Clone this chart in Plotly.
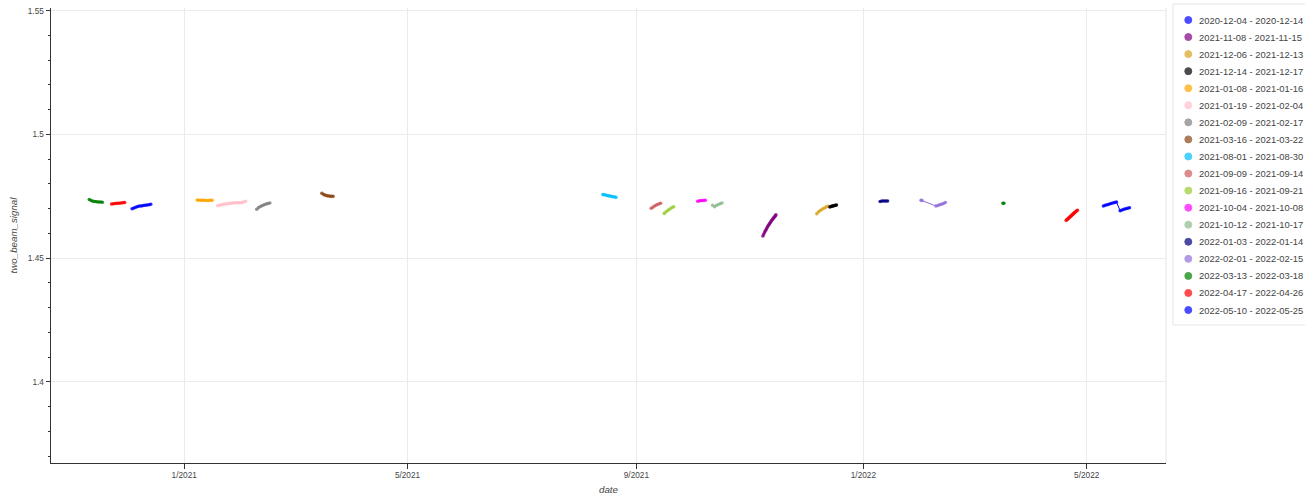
import plotly.graph_objects as go

# ---------------- data ----------------
# unlabelled early series (no legend entry in the reference)
a_dates = ["2020-11-11", "2020-11-12", "2020-11-13", "2020-11-14", "2020-11-15", "2020-11-16", "2020-11-17", "2020-11-18"]
a_vals = [1.4737, 1.4733, 1.4730, 1.4729, 1.4728, 1.4727, 1.4727, 1.4726]
b_dates = ["2020-11-23", "2020-11-24", "2020-11-25", "2020-11-26", "2020-11-27", "2020-11-28", "2020-11-29", "2020-11-30"]
b_vals = [1.4719, 1.4720, 1.4721, 1.4722, 1.4722, 1.4723, 1.4724, 1.4725]

s01_dates = ["2020-12-04", "2020-12-05", "2020-12-06", "2020-12-07", "2020-12-08", "2020-12-09", "2020-12-10", "2020-12-11", "2020-12-12", "2020-12-13", "2020-12-14"]
s01_vals = [1.4700, 1.4703, 1.4706, 1.4709, 1.4711, 1.4711, 1.4713, 1.4714, 1.4715, 1.4716, 1.4718]

s02_dates = ["2021-11-08 00:00", "2021-11-08 12:00", "2021-11-09 00:00", "2021-11-09 12:00", "2021-11-10 00:00", "2021-11-10 12:00",
             "2021-11-11 00:00", "2021-11-11 12:00", "2021-11-12 00:00", "2021-11-12 12:00", "2021-11-13 00:00", "2021-11-13 12:00",
             "2021-11-14 00:00", "2021-11-14 12:00", "2021-11-15 00:00"]
s02_vals = [1.4590, 1.4598, 1.4606, 1.4613, 1.4620, 1.4627, 1.4633, 1.4639, 1.4644, 1.4650, 1.4655, 1.4660, 1.4665, 1.4670, 1.4675]

s03_dates = ["2021-12-07", "2021-12-08", "2021-12-09", "2021-12-10", "2021-12-11", "2021-12-12", "2021-12-13"]
s03_vals = [1.4680, 1.4688, 1.4694, 1.4699, 1.4703, 1.4707, 1.4710]

s04_dates = ["2021-12-14 00:00", "2021-12-14 12:00", "2021-12-15 00:00", "2021-12-15 12:00", "2021-12-16 00:00", "2021-12-16 12:00", "2021-12-17 00:00", "2021-12-17 12:00"]
s04_vals = [1.4707, 1.4709, 1.4710, 1.4711, 1.4712, 1.4713, 1.4714, 1.4715]

s05_dates = ["2021-01-08", "2021-01-09", "2021-01-10", "2021-01-11", "2021-01-12", "2021-01-13", "2021-01-14", "2021-01-15", "2021-01-16"]
s05_vals = [1.4735, 1.4734, 1.4734, 1.4734, 1.4734, 1.4733, 1.4733, 1.4734, 1.4734]

s06_dates = ["2021-01-19", "2021-01-20", "2021-01-21", "2021-01-22", "2021-01-23", "2021-01-24", "2021-01-25", "2021-01-26",
             "2021-01-27", "2021-01-28", "2021-01-29", "2021-01-30", "2021-01-31", "2021-02-01", "2021-02-02", "2021-02-03"]
s06_vals = [1.4712, 1.4714, 1.4716, 1.4718, 1.4719, 1.4720, 1.4721, 1.4722, 1.4723, 1.4724, 1.4724, 1.4724, 1.4724, 1.4725, 1.4727, 1.4730]

s07_dates = ["2021-02-09", "2021-02-10", "2021-02-11", "2021-02-12", "2021-02-13", "2021-02-14", "2021-02-15", "2021-02-16"]
s07_vals = [1.4698, 1.4705, 1.4709, 1.4713, 1.4716, 1.4719, 1.4721, 1.4723]

s08_dates = ["2021-03-16", "2021-03-17", "2021-03-18", "2021-03-19", "2021-03-20", "2021-03-21", "2021-03-22"]
s08_vals = [1.4762, 1.4757, 1.4754, 1.4752, 1.4751, 1.4750, 1.4750]

s09_dates = ["2021-08-14", "2021-08-15", "2021-08-16", "2021-08-17", "2021-08-18", "2021-08-19", "2021-08-20", "2021-08-21"]
s09_vals = [1.4757, 1.4756, 1.4754, 1.4752, 1.4751, 1.4749, 1.4748, 1.4746]

s10_dates = ["2021-09-09", "2021-09-10", "2021-09-11", "2021-09-12", "2021-09-13", "2021-09-14"]
s10_vals = [1.4702, 1.4707, 1.4712, 1.4716, 1.4719, 1.4722]

s11_dates = ["2021-09-16", "2021-09-17", "2021-09-18", "2021-09-19", "2021-09-20", "2021-09-21"]
s11_vals = [1.4681, 1.4688, 1.4694, 1.4699, 1.4704, 1.4708]

s12_dates = ["2021-10-04", "2021-10-05", "2021-10-06", "2021-10-07", "2021-10-08"]
s12_vals = [1.4730, 1.4732, 1.4733, 1.4733, 1.4734]

s13_dates = ["2021-10-12", "2021-10-13", "2021-10-14", "2021-10-15", "2021-10-16", "2021-10-17"]
s13_vals = [1.4714, 1.4708, 1.4713, 1.4717, 1.4720, 1.4723]

s14_dates = ["2022-01-10", "2022-01-11", "2022-01-12", "2022-01-13", "2022-01-14"]
s14_vals = [1.4729, 1.4731, 1.4731, 1.4731, 1.4731]

s15_dates = ["2022-02-01 00:00", "2022-02-01 12:00", "2022-02-09 00:00", "2022-02-10 00:00", "2022-02-11 00:00", "2022-02-12 00:00", "2022-02-13 00:00", "2022-02-14 00:00"]
s15_vals = [1.4734, 1.4733, 1.4711, 1.4713, 1.4716, 1.4718, 1.4721, 1.4725]

s16_dates = ["2022-03-17 00:00", "2022-03-17 12:00"]
s16_vals = [1.4722, 1.4722]

s17_dates = ["2022-04-20 00:00", "2022-04-20 12:00", "2022-04-21 00:00", "2022-04-21 12:00", "2022-04-22 00:00", "2022-04-22 12:00",
             "2022-04-23 00:00", "2022-04-23 12:00", "2022-04-24 00:00", "2022-04-24 12:00", "2022-04-25 00:00", "2022-04-25 12:00", "2022-04-26 00:00"]
s17_vals = [1.4653, 1.4656, 1.4660, 1.4663, 1.4667, 1.4670, 1.4674, 1.4677, 1.4681, 1.4684, 1.4688, 1.4691, 1.4694]

s18_dates = ["2022-05-10", "2022-05-11", "2022-05-12", "2022-05-13", "2022-05-14", "2022-05-15", "2022-05-16", "2022-05-17",
             "2022-05-19", "2022-05-20", "2022-05-21", "2022-05-22", "2022-05-23", "2022-05-24"]
s18_vals = [1.4711, 1.4714, 1.4716, 1.4718, 1.4721, 1.4723, 1.4725, 1.4727,
            1.4692, 1.4695, 1.4698, 1.4700, 1.4702, 1.4704]

legend_labels = ["2020-12-04 - 2020-12-14", "2021-11-08 - 2021-11-15", "2021-12-06 - 2021-12-13", "2021-12-14 - 2021-12-17",
                 "2021-01-08 - 2021-01-16", "2021-01-19 - 2021-02-04", "2021-02-09 - 2021-02-17", "2021-03-16 - 2021-03-22",
                 "2021-08-01 - 2021-08-30", "2021-09-09 - 2021-09-14", "2021-09-16 - 2021-09-21", "2021-10-04 - 2021-10-08",
                 "2021-10-12 - 2021-10-17", "2022-01-03 - 2022-01-14", "2022-02-01 - 2022-02-15", "2022-03-13 - 2022-03-18",
                 "2022-04-17 - 2022-04-26", "2022-05-10 - 2022-05-25"]
legend_colors = ["blue", "purple", "goldenrod", "black", "orange", "pink", "gray", "saddlebrown", "deepskyblue", "indianred",
                 "yellowgreen", "magenta", "darkseagreen", "navy", "mediumpurple", "green", "red", "blue"]

x_tick_vals = ["2021-01-01", "2021-05-01", "2021-09-01", "2022-01-01", "2022-05-01"]
x_tick_text = ["1/2021", "5/2021", "9/2021", "1/2022", "5/2022"]
x_range = ["2020-10-21 10:00", "2022-06-12 15:00"]
y_range = [1.36727, 1.55109]

labelled = [(s01_dates, s01_vals), (s02_dates, s02_vals), (s03_dates, s03_vals), (s04_dates, s04_vals),
            (s05_dates, s05_vals), (s06_dates, s06_vals), (s07_dates, s07_vals), (s08_dates, s08_vals),
            (s09_dates, s09_vals), (s10_dates, s10_vals), (s11_dates, s11_vals), (s12_dates, s12_vals),
            (s13_dates, s13_vals), (s14_dates, s14_vals), (s15_dates, s15_vals), (s16_dates, s16_vals),
            (s17_dates, s17_vals), (s18_dates, s18_vals)]

# ---------------- figure ----------------
W, H = 1305, 496
ML, MR, MT, MB = 51, 139, 8, 33
PW, PH = W - ML - MR, H - MT - MB
FONT = "Liberation Sans, Arial, Helvetica, sans-serif"


def pxx(px):
    return (px - ML) / PW


def pxy(py):
    return (H - MB - py) / PH


fig = go.Figure()


def add_series(dates, vals, color):
    fig.add_trace(go.Scatter(
        x=dates, y=vals, mode="lines+markers", showlegend=False,
        line=dict(color=color, width=1),
        marker=dict(color=color, size=3.6, opacity=0.85, line=dict(width=0)),
    ))


add_series(a_dates, a_vals, "green")
add_series(b_dates, b_vals, "red")
for (d, v), c in zip(labelled, legend_colors):
    add_series(d, v, c)

shapes = []
annotations = []
# plot outline on the right side
shapes.append(dict(type="line", xref="paper", yref="paper", x0=1, x1=1, y0=0, y1=1,
                   line=dict(color="#e5e5e5", width=1), layer="below"))
# legend box
shapes.append(dict(type="rect", xref="paper", yref="paper", x0=pxx(1173), x1=pxx(1320), y0=pxy(325), y1=pxy(4),
                   line=dict(color="#e5e5e5", width=1), fillcolor="white", layer="above"))
for i, (lab, col) in enumerate(zip(legend_labels, legend_colors)):
    yc = 20 + 17.06 * i
    shapes.append(dict(type="circle", xref="paper", yref="paper", xsizemode="pixel", ysizemode="pixel",
                       xanchor=pxx(1188.3), yanchor=pxy(yc), x0=-3.5, x1=3.5, y0=-3.5, y1=3.5,
                       fillcolor=col, opacity=0.7, line=dict(color=col, width=1), layer="above"))
    annotations.append(dict(xref="paper", yref="paper", x=pxx(1196.5), y=pxy(yc), text=lab, showarrow=False,
                            xanchor="left", yanchor="middle", font=dict(family=FONT, size=9.4, color="#444")))

fig.update_layout(
    width=W, height=H,
    margin=dict(l=ML, r=MR, t=MT, b=MB, autoexpand=False),
    paper_bgcolor="white", plot_bgcolor="white",
    font=dict(family=FONT, color="#444"),
    showlegend=False,
    shapes=shapes, annotations=annotations,
    xaxis=dict(
        type="date", range=x_range, tickvals=x_tick_vals, ticktext=x_tick_text,
        showgrid=True, gridcolor="#ebebeb", gridwidth=1,
        showline=True, linecolor="#333", linewidth=1,
        ticks="outside", ticklen=4.5, tickcolor="#333", tickwidth=1,
        tickfont=dict(family=FONT, size=8.25, color="#444"),
        title=dict(text="date", standoff=6, font=dict(family=FONT, size=9.75, color="#444", style="italic")),
        zeroline=False, automargin=False,
    ),
    yaxis=dict(
        range=y_range, dtick=0.05, tick0=1.4,
        showgrid=True, gridcolor="#ebebeb", gridwidth=1,
        showline=True, linecolor="#333", linewidth=1,
        ticks="outside", ticklen=4.5, tickcolor="#333", tickwidth=1,
        minor=dict(dtick=0.01, ticks="outside", ticklen=2.5, tickcolor="#333", showgrid=False),
        tickfont=dict(family=FONT, size=8.25, color="#444"),
        title=dict(text="two_beam_signal", standoff=8, font=dict(family=FONT, size=9.75, color="#444", style="italic")),
        zeroline=False, automargin=False,
    ),
)

fig.write_html("out.html", config={"displayModeBar": False},
               post_script="document.body.style.margin='0';document.body.style.overflow='hidden';")
